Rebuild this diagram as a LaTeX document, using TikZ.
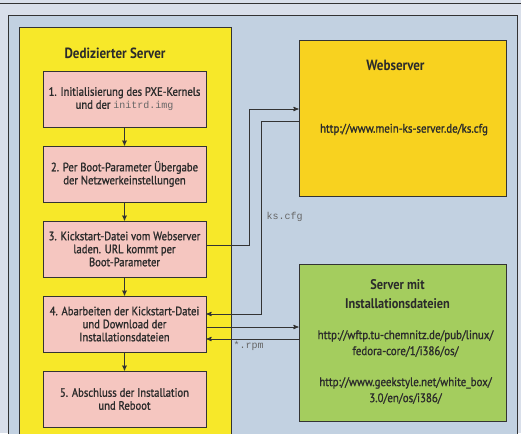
\documentclass[tikz,border=0pt]{standalone}
\usepackage{fontspec}
\setmainfont{PT Sans}
\newfontfamily\bodyfont{PT Sans}[FakeStretch=0.88, FakeBold=1.2]
\newfontfamily\headfont{PT Sans}[FakeStretch=0.88]
\setmonofont{Liberation Mono}
\usetikzlibrary{arrows}
\usetikzlibrary{positioning}
\usetikzlibrary{calc}
\definecolor{outerbg}{HTML}{D9DFEA}
\definecolor{panelbg}{HTML}{C2D1E1}
\definecolor{dsyellow}{HTML}{F7E829}
\definecolor{steppink}{HTML}{F5C6C0}
\definecolor{webyellow}{HTML}{F8D21F}
\definecolor{srvgreen}{HTML}{A4CD5E}
\definecolor{framegray}{HTML}{333333}
\definecolor{textgray}{HTML}{2B2B2B}
\definecolor{monogray}{HTML}{666666}
\begin{document}
\begin{tikzpicture}[>=stealth',x=1pt,y=-1pt]
				\tikzset{stepbox/.style = {shape=rectangle, draw=framegray, line width=0.9pt, fill=steppink, minimum width=163pt, minimum height=56pt, align=center, text=textgray, font=\bodyfont\fontsize{12.1}{13}\selectfont},
					hostbox/.style = {shape=rectangle, draw=framegray, line width=0.9pt, minimum width=207pt, minimum height=156pt},
					title/.style = {text=textgray, align=center, font=\headfont\bfseries\fontsize{14.8}{19}\selectfont},
					url/.style = {text=textgray, align=center, font=\bodyfont\fontsize{12.4}{16}\selectfont},
					mono/.style = {text=monogray, font=\ttfamily\fontsize{10}{12}\selectfont},
					link/.style = {->, draw=framegray, line width=0.9pt}}
				\useasboundingbox (0,0) rectangle (521,433);
				\clip (0,0) rectangle (521,433);
				\fill[outerbg] (0,0) rectangle (521,433);
				\draw[framegray, line width=1pt] (0,4) -- (521,4);
				\draw[framegray, line width=0.9pt, fill=panelbg] (8,15) rectangle (517,450);
				\draw[framegray, line width=0.9pt, fill=dsyellow] (19,27) rectangle (231,450);
				\node[title] (DSTITLE) at (115,53) {Dedizierter Server};
				
				\node[stepbox] (B1) at (124.5,99) {1. Initialisierung des PXE-Kernels \\ und der {\ttfamily\fontsize{10}{13}\selectfont\color{monogray}initrd.img}};
				\node[stepbox] (B2) at (124.5,174) {2. Per Boot-Parameter Übergabe \\ der Netzwerkeinstellungen};
				\node[stepbox] (B3) at (124.5,249) {3. Kickstart-Datei vom Webserver \\ laden. URL kommt per \\ Boot-Parameter};
				\node[stepbox] (B4) at (124.5,324) {4. Abarbeiten der Kickstart-Datei \\ und Download der \\ Installationsdateien};
				\node[stepbox] (B5) at (124.5,399) {5. Abschluss der Installation \\ und Reboot};
				
				\node[hostbox, fill=webyellow] (WEB) at (402.5,118) {};
				\node[title] (WEBTITLE) at ([xshift=-7pt,yshift=-26pt]WEB.north) {Webserver};
				\node[url] (WEBURL) at ([xshift=1.5pt,yshift=-90pt]WEB.north) {http://www.mein-ks-server.de/ks.cfg};
				
				\node[hostbox, fill=srvgreen, minimum height=157pt] (SRV) at (402.5,342.5) {};
				\node[title, font=\headfont\bfseries\fontsize{14}{19}\selectfont] (SRVTITLE) at ([xshift=-5pt,yshift=-30.5pt]SRV.north) {Server mit \\ Installationsdateien};
				\node[url] (SRVURLA) at ([xshift=3pt,yshift=-80pt]SRV.north) {http://wftp.tu-chemnitz.de/pub/linux/ \\ fedora-core/1/i386/os/};
				\node[url] (SRVURLB) at ([xshift=3pt,yshift=-127pt]SRV.north) {http://www.geekstyle.net/white\_box/ \\ 3.0/en/os/i386/};
				
				\draw[link] (B1) -- (B2);
				\draw[link] (B2) -- (B3);
				\draw[link] (B3) -- (B4);
				\draw[link] (B4) -- (B5);
				
				\draw[link] ([yshift=4pt]B3.east) -- ++(43,0) |- ([yshift=9pt]WEB.west);
				\draw[link] ([yshift=-3pt]WEB.west) -- ++(-37,0) |- ([yshift=10pt]B4.east);
				\draw[link] ([yshift=-3pt]B4.east) -- ([yshift=-3pt]B4.east -| SRV.west);
				\draw[link] ([yshift=-15pt]B4.east -| SRV.west) -- ([yshift=-15pt]B4.east);
				\node[mono, anchor=west] (KSCFG) at (263,217) {ks.cfg};
				\node[mono, anchor=west] (RPM) at (230,346) {*.rpm};
				
				\end{tikzpicture}
\end{document}
